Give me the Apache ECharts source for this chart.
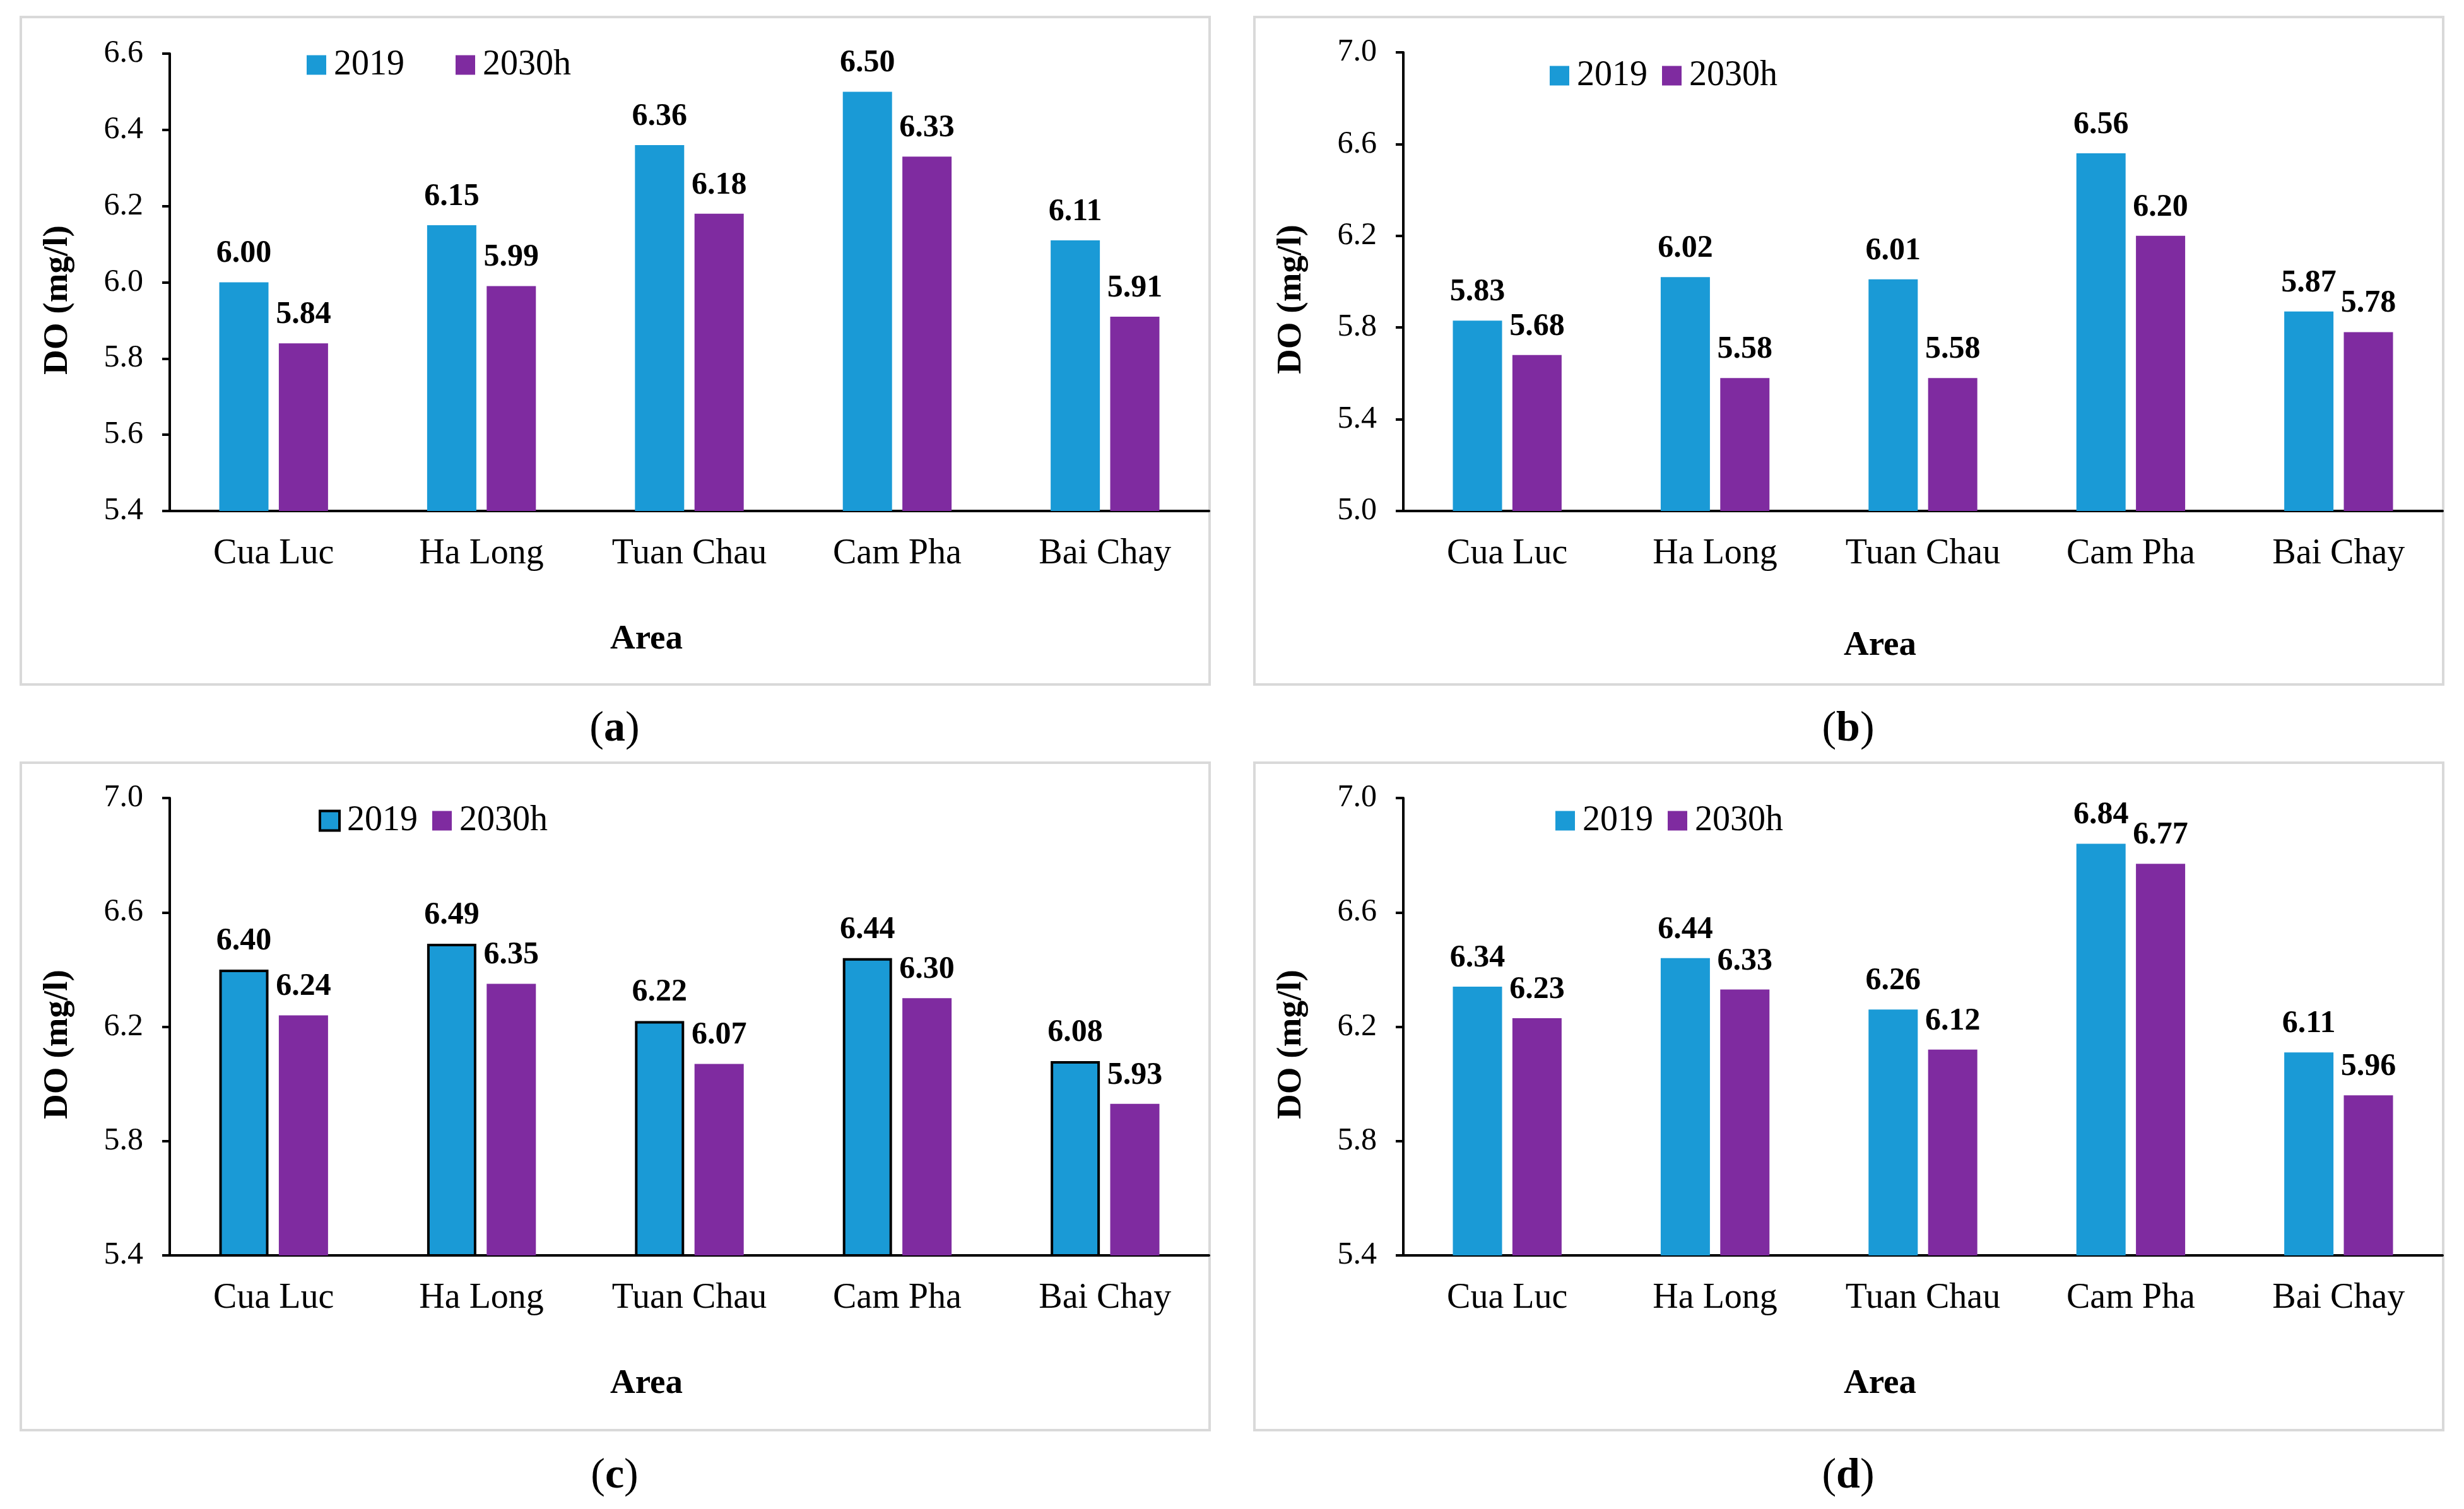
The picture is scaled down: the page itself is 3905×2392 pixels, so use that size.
<!DOCTYPE html>
<html>
<head>
<meta charset="utf-8">
<script src="https://cdn.jsdelivr.net/npm/echarts@6/dist/echarts.min.js"></script>
<style>
html,body{margin:0;padding:0;background:#fff;}
#c{width:3905px;height:2392px;}
</style>
</head>
<body>
<div id="c"></div>
<script>
// ---- data ----
var categories = ['Cua Luc', 'Ha Long', 'Tuan Chau', 'Cam Pha', 'Bai Chay'];
var seriesNames = ['2019', '2030h'];
var a2019  = [6.00, 6.15, 6.36, 6.50, 6.11];
var a2030h = [5.84, 5.99, 6.18, 6.33, 5.91];
var b2019  = [5.83, 6.02, 6.01, 6.56, 5.87];
var b2030h = [5.68, 5.58, 5.58, 6.20, 5.78];
var c2019  = [6.40, 6.49, 6.22, 6.44, 6.08];
var c2030h = [6.24, 6.35, 6.07, 6.30, 5.93];
var d2019  = [6.34, 6.44, 6.26, 6.84, 6.11];
var d2030h = [6.23, 6.33, 6.12, 6.77, 5.96];
var yRanges = [[5.4, 6.6, 0.2], [5.0, 7.0, 0.4], [5.4, 7.0, 0.4], [5.4, 7.0, 0.4]];
var panelLetters = ['a', 'b', 'c', 'd'];
var yTitle = 'DO (mg/l)';
var xTitle = 'Area';

// ---- styles ----
var BLUE = '#1a9ad6', PURPLE = '#7f2ba0';
var FONT = '"Liberation Serif", "Times New Roman", serif';
var panels = [
  {grid:{left:269, top:85, width:1647, height:725}, frame:[33,27,1884,1058], cap:[974,1156],
   legend:{left:481, top:70, gap:81}, s:[a2019,a2030h], border:false, areaGap:176},
  {grid:{left:2224, top:83, width:1647, height:727}, frame:[1988,27,1884,1058], cap:[2929,1156],
   legend:{left:2451, top:87, gap:23}, s:[b2019,b2030h], border:false, areaGap:186},
  {grid:{left:269, top:1265, width:1647, height:725}, frame:[33,1209,1884,1058], cap:[974,2340],
   legend:{left:500, top:1268, gap:23}, s:[c2019,c2030h], border:true, areaGap:176},
  {grid:{left:2224, top:1265, width:1647, height:725}, frame:[1988,1209,1884,1058], cap:[2929,2340],
   legend:{left:2460, top:1268, gap:23}, s:[d2019,d2030h], border:false, areaGap:176}
];

var option = {
  backgroundColor:'#fff',
  animation:false,
  grid:[], xAxis:[], yAxis:[], series:[], legend:[], graphic:[]
};

panels.forEach(function(p, i){
  option.grid.push(p.grid);
  option.xAxis.push({
    type:'category', gridIndex:i, data:categories,
    axisLine:{lineStyle:{color:'#000', width:4}},
    axisTick:{alignWithLabel:true, length:11, lineStyle:{color:'#000', width:4}},
    axisLabel:{fontFamily:FONT, fontSize:56, color:'#000', margin:40},
    name:xTitle, nameLocation:'middle', nameGap:p.areaGap,
    nameTextStyle:{fontFamily:FONT, fontSize:55, fontWeight:'bold', color:'#000', padding:[0,136,0,0]}
  });
  var r = yRanges[i];
  option.yAxis.push({
    type:'value', gridIndex:i, min:r[0], max:r[1], interval:r[2],
    axisLine:{show:true, lineStyle:{color:'#000', width:4}},
    axisTick:{show:true, length:12, lineStyle:{color:'#000', width:4}},
    splitLine:{show:false},
    axisLabel:{fontFamily:FONT, fontSize:50, color:'#000', margin:42,
      formatter:function(v){return v.toFixed(1);}},
    name:yTitle, nameLocation:'middle', nameGap:150, nameRotate:90,
    nameTextStyle:{fontFamily:FONT, fontSize:55, fontWeight:'bold', color:'#000', padding:[0,56,0,0]}
  });
  var lbl = {show:true, position:'top', distance:20, fontFamily:FONT, fontSize:50,
    fontWeight:'bold', color:'#000', formatter:function(d){return d.value.toFixed(2);}};
  option.series.push({
    type:'bar', name:seriesNames[0], xAxisIndex:i, yAxisIndex:i, data:p.s[0],
    barWidth:78, barGap:'21%',
    itemStyle:{color:BLUE, borderColor:'#000', borderWidth:p.border?4:0},
    label:lbl
  });
  option.series.push({
    type:'bar', name:seriesNames[1], xAxisIndex:i, yAxisIndex:i, data:p.s[1],
    barWidth:78, barGap:'21%',
    itemStyle:{color:PURPLE},
    label:lbl
  });
  option.legend.push({
    left:p.legend.left, top:p.legend.top, itemGap:p.legend.gap,
    itemWidth:31, itemHeight:31, icon:'rect', selectedMode:false,
    textStyle:{fontFamily:FONT, fontSize:56, color:'#000', padding:[0,0,0,7]},
    data:[
      {name:seriesNames[0], itemStyle:{color:BLUE, borderColor:'#000', borderWidth:p.border?4:0}},
      {name:seriesNames[1], itemStyle:{color:PURPLE, borderWidth:0}}
    ]
  });
  option.graphic.push({
    type:'rect', silent:true, z:-1,
    shape:{x:p.frame[0], y:p.frame[1], width:p.frame[2], height:p.frame[3]},
    style:{fill:'none', stroke:'#d9d9d9', lineWidth:4}
  });
  option.graphic.push({
    type:'text', silent:true, x:p.cap[0], y:p.cap[1],
    style:{
      text:'{p|(}{b|' + panelLetters[i] + '}{p|)}',
      align:'center', verticalAlign:'middle',
      rich:{
        p:{fontFamily:FONT, fontSize:68, color:'#000'},
        b:{fontFamily:FONT, fontSize:68, fontWeight:'bold', color:'#000'}
      }
    }
  });
});

var chart = echarts.init(document.getElementById('c'), null, {renderer:'canvas'});
chart.setOption(option);
</script>
</body>
</html>
